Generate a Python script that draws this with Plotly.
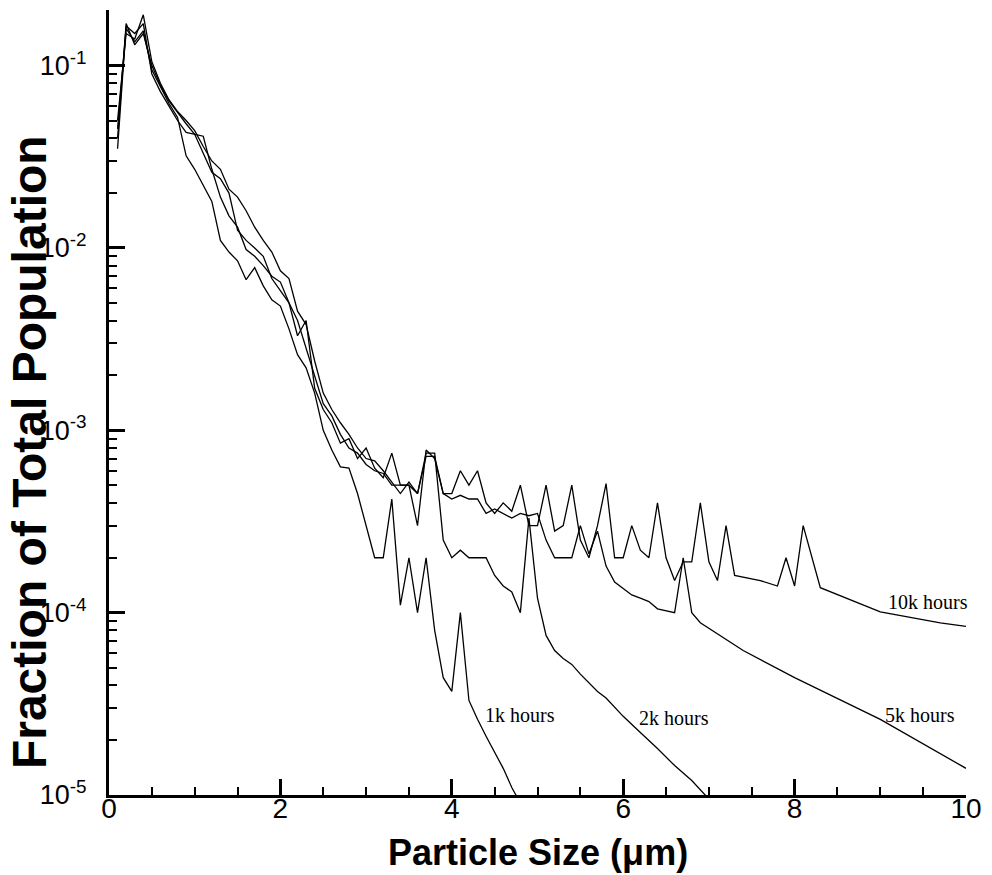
import plotly.graph_objects as go

# ---------------- data ----------------
x_1k = [0.1, 0.2, 0.3, 0.4, 0.5, 0.6, 0.7, 0.8, 0.9, 1.0, 1.1, 1.2, 1.3, 1.4, 1.5, 1.6, 1.7, 1.8, 1.9, 2.0,
        2.1, 2.2, 2.3, 2.4, 2.5, 2.6, 2.7, 2.8, 2.9, 3.0, 3.1, 3.2, 3.3, 3.4, 3.5, 3.6, 3.7, 3.8, 3.9, 4.0,
        4.1, 4.2, 4.3, 4.4, 4.5, 4.6, 4.7, 4.8]
y_1k = [0.045, 0.160, 0.135, 0.155, 0.095, 0.076, 0.062, 0.052, 0.032, 0.027, 0.022, 0.018, 0.011, 0.0095,
        0.0085, 0.0067, 0.0078, 0.0062, 0.0052, 0.0048, 0.0036, 0.0026, 0.0022, 0.0016, 0.0010, 0.00078,
        0.00063, 0.00062, 0.00045, 0.00030, 0.00020, 0.00020, 0.00042, 0.00011, 0.00020, 0.00010, 0.00020,
        0.000080, 0.000044, 0.000037, 0.000100, 0.000033, 0.000026, 0.000021, 0.000017, 0.000014, 0.000011,
        0.0000090]

x_2k = [0.1, 0.2, 0.3, 0.4, 0.5, 0.6, 0.7, 0.8, 0.9, 1.0, 1.1, 1.2, 1.3, 1.4, 1.5, 1.6, 1.7, 1.8, 1.9, 2.0,
        2.1, 2.2, 2.3, 2.4, 2.5, 2.6, 2.7, 2.8, 2.9, 3.0, 3.1, 3.2, 3.3, 3.4, 3.5, 3.6, 3.7, 3.8, 3.9, 4.0,
        4.1, 4.2, 4.3, 4.4, 4.5, 4.6, 4.7, 4.8, 4.9, 5.0, 5.1, 5.2, 5.3, 5.4, 5.5, 5.6, 5.7, 5.8, 6.0, 6.2,
        6.4, 6.6, 6.8, 7.0]
y_2k = [0.040, 0.170, 0.130, 0.150, 0.100, 0.078, 0.064, 0.055, 0.048, 0.042, 0.033, 0.026, 0.024, 0.020,
        0.0125, 0.011, 0.010, 0.0090, 0.0068, 0.0058, 0.0050, 0.0033, 0.0040, 0.0017, 0.0013, 0.0011,
        0.00085, 0.00090, 0.00070, 0.00080, 0.00062, 0.00055, 0.00075, 0.00050, 0.00050, 0.00045, 0.00075,
        0.00075, 0.00025, 0.00020, 0.00022, 0.00020, 0.00020, 0.00020, 0.00016, 0.00014, 0.00013, 0.00010,
        0.00033, 0.00012, 0.000075, 0.000062, 0.000056, 0.000052, 0.000046, 0.000041, 0.000037, 0.000034,
        0.000027, 0.000022, 0.000018, 0.0000145, 0.000012, 0.0000095]

x_5k = [0.1, 0.2, 0.3, 0.4, 0.5, 0.6, 0.7, 0.8, 0.9, 1.0, 1.1, 1.2, 1.3, 1.4, 1.5, 1.6, 1.7, 1.8, 1.9, 2.0,
        2.1, 2.2, 2.3, 2.4, 2.5, 2.6, 2.7, 2.8, 2.9, 3.0, 3.1, 3.2, 3.3, 3.4, 3.5, 3.6, 3.7, 3.8, 3.9, 4.0,
        4.1, 4.2, 4.3, 4.4, 4.5, 4.6, 4.7, 4.8, 4.9, 5.0, 5.1, 5.2, 5.3, 5.4, 5.5, 5.6, 5.7, 5.8, 5.9, 6.0,
        6.1, 6.2, 6.3, 6.4, 6.5, 6.6, 6.7, 6.8, 6.9, 7.0, 7.1, 7.4, 8.0, 9.0, 10.0]
y_5k = [0.050, 0.150, 0.140, 0.190, 0.105, 0.080, 0.065, 0.056, 0.050, 0.044, 0.036, 0.030, 0.027, 0.021,
        0.019, 0.016, 0.013, 0.011, 0.0095, 0.0075, 0.0068, 0.0045, 0.0038, 0.0024, 0.0016, 0.0013, 0.0011,
        0.00095, 0.00080, 0.00070, 0.00068, 0.00060, 0.00052, 0.00045, 0.00052, 0.00045, 0.00072, 0.00072,
        0.00045, 0.00042, 0.00044, 0.00042, 0.00042, 0.00035, 0.00037, 0.00035, 0.00033, 0.00035, 0.00034,
        0.00035, 0.00025, 0.00020, 0.00020, 0.00020, 0.00030, 0.00021, 0.00028, 0.00018, 0.000147, 0.000135,
        0.000125, 0.000120, 0.000115, 0.000105, 0.000102, 0.000100, 0.000200, 0.000100, 0.000088, 0.000082,
        0.000076, 0.000062, 0.000044, 0.000026, 0.0000140]

x_10k = [0.1, 0.2, 0.3, 0.4, 0.5, 0.6, 0.7, 0.8, 0.9, 1.0, 1.1, 1.2, 1.3, 1.4, 1.5, 1.6, 1.7, 1.8, 1.9, 2.0,
         2.1, 2.2, 2.3, 2.4, 2.5, 2.6, 2.7, 2.8, 2.9, 3.0, 3.1, 3.2, 3.3, 3.4, 3.5, 3.6, 3.7, 3.8, 3.9, 4.0,
         4.1, 4.2, 4.3, 4.4, 4.5, 4.6, 4.7, 4.8, 4.9, 5.0, 5.1, 5.2, 5.3, 5.4, 5.5, 5.6, 5.7, 5.8, 5.9, 6.0,
         6.1, 6.2, 6.3, 6.4, 6.5, 6.6, 6.7, 6.8, 6.9, 7.0, 7.1, 7.2, 7.3, 7.6, 7.8, 7.9, 8.0, 8.1, 8.3, 9.0,
         9.7, 10.0]
y_10k = [0.035, 0.165, 0.150, 0.170, 0.090, 0.072, 0.060, 0.050, 0.043, 0.042, 0.041, 0.027, 0.019, 0.015,
         0.013, 0.0098, 0.0090, 0.0080, 0.0070, 0.0065, 0.0050, 0.0040, 0.0028, 0.0020, 0.0014, 0.0012,
         0.00095, 0.00080, 0.00075, 0.00065, 0.00060, 0.00058, 0.00050, 0.00050, 0.00050, 0.00030, 0.00078,
         0.00070, 0.00045, 0.00045, 0.00060, 0.00050, 0.00060, 0.00040, 0.00035, 0.00040, 0.00036, 0.00050,
         0.00030, 0.00030, 0.00050, 0.00028, 0.00030, 0.00050, 0.00025, 0.00020, 0.00030, 0.00051, 0.00020,
         0.00020, 0.00030, 0.00022, 0.00020, 0.00040, 0.00020, 0.00015, 0.00019, 0.00019, 0.00040, 0.00019,
         0.00015, 0.00030, 0.00016, 0.00015, 0.00014, 0.00020, 0.00014, 0.00030, 0.000137, 0.000101,
         0.000088, 0.000084]

series = [("1k hours", x_1k, y_1k), ("2k hours", x_2k, y_2k),
          ("5k hours", x_5k, y_5k), ("10k hours", x_10k, y_10k)]

# curve labels: (text, x, log10 y)
labels = [("1k hours", 4.79, -4.56), ("2k hours", 6.59, -4.58),
          ("5k hours", 9.46, -4.56), ("10k hours", 9.56, -3.94)]

y_major = [1e-5, 1e-4, 1e-3, 1e-2, 1e-1]
y_major_text = ["10<sup>-5</sup>", "10<sup>-4</sup>", "10<sup>-3</sup>", "10<sup>-2</sup>", "10<sup>-1</sup>"]
y_minor = [m * d for d in [1e-5, 1e-4, 1e-3, 1e-2] for m in range(2, 10)]
x_major = [0, 2, 4, 6, 8, 10]

# ---------------- figure ----------------
fig = go.Figure()
for name, xs, ys in series:
    fig.add_trace(go.Scatter(x=xs, y=ys, mode="lines", name=name,
                             line=dict(color="black", width=1.3), showlegend=False))

sans = "Liberation Sans, Arial, Helvetica, sans-serif"
serif = "Liberation Serif, Times New Roman, serif"

for text, lx, ly in labels:
    fig.add_annotation(x=lx, y=ly, xref="x", yref="y", text=text, showarrow=False,
                       font=dict(family=serif, size=20, color="black"),
                       xanchor="center", yanchor="middle")

fig.add_annotation(x=0.5, y=-0.073, xref="paper", yref="paper",
                   text="<b>Particle Size (μm)</b>", showarrow=False,
                   font=dict(family=sans, size=36, color="black"),
                   xanchor="center", yanchor="middle")
fig.add_annotation(x=-0.092, y=0.437, xref="paper", yref="paper",
                   text="<b>Fraction of Total Population</b>", showarrow=False, textangle=-90,
                   font=dict(family=sans, size=48, color="black"),
                   xanchor="center", yanchor="middle")

fig.update_layout(
    width=992, height=875,
    margin=dict(l=109, r=20, t=10, b=80),
    paper_bgcolor="white", plot_bgcolor="white",
    xaxis=dict(range=[0, 10], showgrid=False, zeroline=False,
               showline=True, linecolor="black", linewidth=3, mirror=False,
               ticks="inside", ticklen=16, tickwidth=3, tickcolor="black",
               tickmode="array", tickvals=x_major, ticktext=[str(v) for v in x_major],
               ticklabelstandoff=-14, ticklabeloverflow="allow",
               tickfont=dict(family=sans, size=28, color="black"),
               minor=dict(ticks="inside", ticklen=8, tickwidth=1.5, tickcolor="black",
                          dtick=0.5, tick0=0, showgrid=False)),
    yaxis=dict(type="log", range=[-5, -0.695], showgrid=False, zeroline=False,
               showline=True, linecolor="black", linewidth=3, mirror=False,
               ticks="inside", ticklen=16, tickwidth=3, tickcolor="black",
               tickmode="array", tickvals=y_major, ticktext=y_major_text,
               ticklabelstandoff=14,
               tickfont=dict(family=sans, size=27, color="black"),
               minor=dict(ticks="inside", ticklen=8, tickwidth=1.5, tickcolor="black",
                          tickmode="array", tickvals=y_minor, showgrid=False)),
)

fig.write_html("out.html", config={"displayModeBar": False},
               post_script="document.body.style.margin='0';document.body.style.padding='0';"
                           "document.body.style.overflow='hidden';"
                           "document.documentElement.style.overflow='hidden';")
